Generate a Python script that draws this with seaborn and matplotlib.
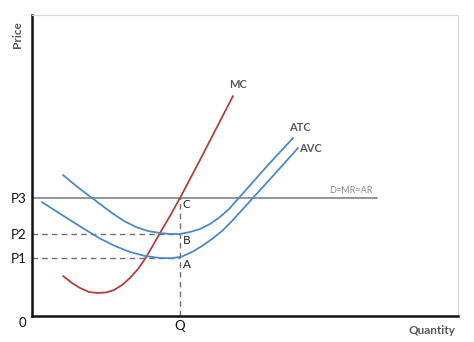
import matplotlib
matplotlib.use("Agg")
import matplotlib.pyplot as plt
import pandas as pd
import seaborn as sns

# Cost curves (quantity, price)
mc_q = [31, 40, 48, 57, 66, 74, 82, 90, 98, 106, 113, 120, 128, 138, 148, 168, 201]
mc_p = [40, 33, 28, 24, 23, 23.5, 26, 31, 38, 47, 57, 69, 83, 100, 118, 156, 220]

atc_q = [31, 43, 56, 68, 80, 92, 104, 116, 128, 138, 148, 158, 168, 178, 188, 197, 205, 221, 236, 261]
atc_p = [141, 131, 121, 112, 103, 95, 89, 85, 83, 82, 82, 84, 87, 92, 99, 107, 116, 134, 151, 178]

avc_q = [10, 23, 38, 53, 68, 83, 98, 113, 128, 140, 150, 160, 170, 180, 190, 200, 210, 220, 240, 266]
avc_p = [114, 105.5, 96, 86.5, 77.5, 70, 64, 60, 58, 57.8, 59.5, 64, 70, 77, 85, 95, 106, 117, 139, 168]

# Market price / output levels
price_levels = [58, 82, 118]
price_labels = ["P1", "P2", "P3"]
q_level = 148
q_label = "Q"
demand_end = 345
demand_label = "D=MR=AR"

df = pd.concat([
    pd.DataFrame({"Quantity": mc_q, "Price": mc_p, "curve": "MC"}),
    pd.DataFrame({"Quantity": atc_q, "Price": atc_p, "curve": "ATC"}),
    pd.DataFrame({"Quantity": avc_q, "Price": avc_p, "curve": "AVC"}),
], ignore_index=True)

sns.set_theme(style="white")
plt.rcParams["font.family"] = ["Lato", "DejaVu Sans"]

fig = plt.figure(figsize=(4.74, 3.42), dpi=100)
ax = fig.add_axes([32 / 474, 1 - 316 / 342, 426 / 474, 301 / 342])

palette = {"MC": "#B2403E", "ATC": "#4A8BC4", "AVC": "#4A8BC4"}
sns.lineplot(data=df, x="Quantity", y="Price", hue="curve", units="curve",
             estimator=None, sort=False, palette=palette, linewidth=1.3,
             legend=False, ax=ax, zorder=3)

# Demand line at P3
ax.plot([0, demand_end], [price_levels[2]] * 2, color="#8C8C8C", lw=1.3, zorder=2)
ax.text(demand_end - 4, price_levels[2] + 3, demand_label, ha="right", va="bottom",
        fontsize=6.5, color="#8C8C8C")

# Dashed guides at P1, P2 and Q
for p in price_levels[:2]:
    ax.plot([0, q_level], [p, p], color="#707070", lw=1.0, ls=(0, (4, 3)), zorder=1)
ax.plot([q_level, q_level], [0, price_levels[2]], color="#707070", lw=1.0,
        ls=(0, (4, 3)), zorder=1)

# Point labels
for lbl, p in zip(["A", "B", "C"], price_levels):
    ax.text(q_level + 2.5, p - 7, lbl, ha="left", va="center", fontsize=8.5, color="#222222")

# Curve labels
ax.text(mc_q[-1] + 5, mc_p[-1] + 11, "MC", ha="center", va="center",
        fontsize=8, fontweight="bold", color="#595959")
ax.text(atc_q[-1] + 7, atc_p[-1] + 10, "ATC", ha="center", va="center",
        fontsize=8, fontweight="bold", color="#595959")
ax.text(avc_q[-1] + 12, avc_p[-1] - 1, "AVC", ha="center", va="center",
        fontsize=8, fontweight="bold", color="#595959")

ax.set_xlim(0, 426)
ax.set_ylim(0, 301)
ax.set_yticks(price_levels, price_labels)
ax.set_xticks([q_level], [q_label])
ax.tick_params(axis="both", length=0, labelsize=9.5, colors="#111111")
ax.tick_params(axis="y", pad=4)
ax.tick_params(axis="x", pad=3)
ax.set_xlabel("")
ax.set_ylabel("")

ax.text(-10, -7, "0", ha="center", va="center", fontsize=9.5, color="#111111")
ax.text(-14, 281, "Price", ha="center", va="center", rotation=90,
        fontsize=8.5, fontweight="bold", color="#595959")
ax.text(400, -14, "Quantity", ha="center", va="center",
        fontsize=8.5, fontweight="bold", color="#595959")

for side in ["left", "bottom"]:
    ax.spines[side].set_color("#111111")
    ax.spines[side].set_linewidth(1.8)
for side in ["top", "right"]:
    ax.spines[side].set_color("#D9D9D9")
    ax.spines[side].set_linewidth(0.8)

fig.savefig("out.png", dpi=100)
